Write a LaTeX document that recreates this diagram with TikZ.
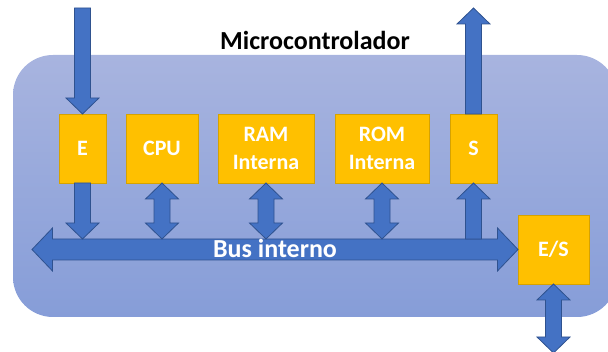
\documentclass[tikz,border=0pt]{standalone}
\usepackage{fontspec}
\setmainfont{Carlito}
\usetikzlibrary{calc,positioning}

\definecolor{boxfill}{RGB}{255,192,0}
\definecolor{boxline}{RGB}{214,162,0}
\definecolor{arrowfill}{RGB}{68,114,196}
\definecolor{arrowline}{RGB}{47,82,143}
\definecolor{bgtop}{RGB}{168,180,223}
\definecolor{bgbottom}{RGB}{134,157,216}

\newcommand{\onearrow}[2]{%
    \path ($(#2)!16pt!(#1)$) coordinate (hb);
    \draw[blockarrow] ($(#1)!8pt!90:(#2)$) -- ($(hb)!8pt!90:(#2)$) -- ($(hb)!16.5pt!90:(#2)$) -- (#2) -- ($(hb)!16.5pt!-90:(#2)$) -- ($(hb)!8pt!-90:(#2)$) -- ($(#1)!8pt!-90:(#2)$) -- cycle;
}
\newcommand{\twoarrow}[5]{%
    \path ($(#1)!#5!(#2)$) coordinate (ha) ($(#2)!#5!(#1)$) coordinate (hb);
    \draw[blockarrow] (#1) -- ($(ha)!#4!90:(#2)$) -- ($(ha)!#3!90:(#2)$) -- ($(hb)!#3!90:(#2)$) -- ($(hb)!#4!90:(#2)$) -- (#2) -- ($(hb)!#4!-90:(#2)$) -- ($(hb)!#3!-90:(#2)$) -- ($(ha)!#3!-90:(#2)$) -- ($(ha)!#4!-90:(#2)$) -- cycle;
}

\begin{document}
\begin{tikzpicture}[x=1pt, y=-1pt,
    box/.style={draw=boxline, fill=boxfill, line width=.8pt, outer sep=0pt, inner sep=0pt, minimum height=69pt, text=white, align=center, font=\bfseries\fontsize{22}{28}\selectfont},
    blockarrow/.style={draw=arrowline, fill=arrowfill, line width=.8pt, line join=miter}]
    \clip (0,0) rectangle (608,352);
    \shade[top color=bgtop, bottom color=bgbottom, rounded corners=40pt] (13,55) rectangle (617,317);
    \node[anchor=base, font=\bfseries\fontsize{26}{30}\selectfont] (title) at (315,50) {Microcontrolador};

    \coordinate (bustop) at (0,239);
    \coordinate (busend) at (32,249.5);
    \coordinate (intail) at (82.5,8);
    \coordinate (outtip) at (473.5,8);
    \coordinate (estip) at (553.5,353);

    \node[box, minimum width=47pt] (E) at (82.5,148.5) {E};
    \node[box, minimum width=72pt, right=20pt of E] (CPU) {CPU};
    \node[box, minimum width=96pt, right=20pt of CPU] (RAM) {RAM\\Interna};
    \node[box, minimum width=94pt, right=21pt of RAM] (ROM) {ROM\\Interna};
    \node[box, minimum width=47pt, right=21pt of ROM] (S) {S};
    \node[box, minimum width=71pt] (ES) at (553.5,249.5) {E/S};

    \coordinate (ebus) at (E.south |- bustop);
    \coordinate (cpubus) at (CPU.south |- bustop);
    \coordinate (rambus) at (RAM.south |- bustop);
    \coordinate (rombus) at (ROM.south |- bustop);
    \coordinate (sbus) at (S.south |- bustop);

    \twoarrow{busend}{ES.west}{10.5pt}{21.5pt}{20.5pt}
    \node[anchor=base, text=white, font=\bfseries\fontsize{26}{30}\selectfont] (bus) at (275,258) {Bus interno};

    \onearrow{intail}{E.north}
    \onearrow{S.north}{outtip}
    \onearrow{E.south}{ebus}
    \onearrow{sbus}{S.south}
    \twoarrow{CPU.south}{cpubus}{8pt}{16.5pt}{16pt}
    \twoarrow{RAM.south}{rambus}{8pt}{16.5pt}{16pt}
    \twoarrow{ROM.south}{rombus}{8pt}{16.5pt}{16pt}
    \twoarrow{ES.south}{estip}{8pt}{16.5pt}{16pt}
\end{tikzpicture}
\end{document}
